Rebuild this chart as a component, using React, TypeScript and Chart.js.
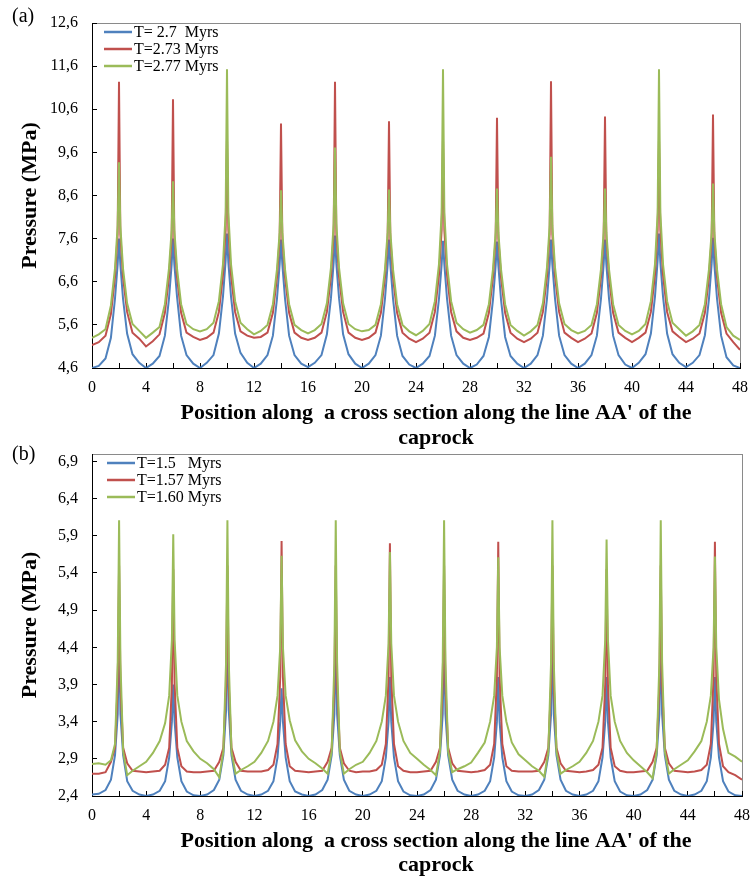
import React, { useEffect, useRef } from "react";
import { Chart, registerables } from "chart.js";

Chart.register(...registerables);

// Shared x positions (position along the cross section)
const POSITIONS = [
  0, 0.5, 1, 1.4, 1.7, 1.9, 2, 2.1, 2.3, 2.6, 3, 3.5,
  4, 4.5, 5, 5.4, 5.7, 5.9, 6, 6.1, 6.3, 6.6, 7, 7.5,
  8, 8.5, 9, 9.4, 9.7, 9.9, 10, 10.1, 10.3, 10.6, 11, 11.5,
  12, 12.5, 13, 13.4, 13.7, 13.9, 14, 14.1, 14.3, 14.6, 15, 15.5,
  16, 16.5, 17, 17.4, 17.7, 17.9, 18, 18.1, 18.3, 18.6, 19, 19.5,
  20, 20.5, 21, 21.4, 21.7, 21.9, 22, 22.1, 22.3, 22.6, 23, 23.5,
  24, 24.5, 25, 25.4, 25.7, 25.9, 26, 26.1, 26.3, 26.6, 27, 27.5,
  28, 28.5, 29, 29.4, 29.7, 29.9, 30, 30.1, 30.3, 30.6, 31, 31.5,
  32, 32.5, 33, 33.4, 33.7, 33.9, 34, 34.1, 34.3, 34.6, 35, 35.5,
  36, 36.5, 37, 37.4, 37.7, 37.9, 38, 38.1, 38.3, 38.6, 39, 39.5,
  40, 40.5, 41, 41.4, 41.7, 41.9, 42, 42.1, 42.3, 42.6, 43, 43.5,
  44, 44.5, 45, 45.4, 45.7, 45.9, 46, 46.1, 46.3, 46.6, 47, 47.5,
  48,
];

// Panel (a)
const A_T270 = [
  4.6, 4.65, 4.82, 5.3, 6.2, 7.0, 7.6, 7.0, 6.2, 5.4, 4.92, 4.72,
  4.6, 4.7, 4.88, 5.35, 6.2, 7.0, 7.6, 7.0, 6.25, 5.35, 4.9, 4.7,
  4.6, 4.72, 4.9, 5.4, 6.25, 7.1, 7.72, 7.05, 6.25, 5.4, 4.95, 4.72,
  4.6, 4.7, 4.9, 5.35, 6.2, 7.0, 7.58, 7.0, 6.2, 5.35, 4.9, 4.7,
  4.62, 4.72, 4.9, 5.38, 6.22, 7.05, 7.67, 7.02, 6.22, 5.38, 4.92, 4.7,
  4.6, 4.7, 4.9, 5.35, 6.2, 7.0, 7.58, 7.0, 6.2, 5.35, 4.88, 4.68,
  4.6, 4.7, 4.88, 5.35, 6.2, 7.0, 7.55, 7.0, 6.2, 5.35, 4.9, 4.7,
  4.6, 4.68, 4.88, 5.32, 6.18, 6.98, 7.53, 6.98, 6.18, 5.32, 4.88, 4.7,
  4.6, 4.7, 4.9, 5.35, 6.2, 7.0, 7.58, 7.0, 6.2, 5.35, 4.9, 4.7,
  4.6, 4.7, 4.9, 5.35, 6.2, 7.0, 7.58, 7.0, 6.2, 5.35, 4.9, 4.68,
  4.6, 4.72, 4.92, 5.4, 6.25, 7.1, 7.72, 7.05, 6.25, 5.4, 4.92, 4.72,
  4.62, 4.72, 4.9, 5.36, 6.2, 7.02, 7.62, 7.0, 6.2, 5.35, 4.85, 4.66,
  4.6,
];
const A_T273 = [
  5.13, 5.2, 5.35, 5.85, 6.7, 7.7, 11.24, 7.7, 6.7, 5.9, 5.42, 5.28,
  5.1, 5.22, 5.38, 5.88, 6.7, 7.6, 10.83, 7.6, 6.7, 5.88, 5.42, 5.32,
  5.25, 5.3, 5.42, 5.9, 6.75, 7.8, 9.9, 7.8, 6.75, 5.9, 5.45, 5.35,
  5.3, 5.32, 5.42, 5.88, 6.7, 7.6, 10.27, 7.6, 6.7, 5.88, 5.42, 5.3,
  5.25, 5.3, 5.42, 5.9, 6.72, 7.7, 11.24, 7.7, 6.72, 5.9, 5.42, 5.3,
  5.25, 5.3, 5.42, 5.88, 6.7, 7.6, 10.32, 7.6, 6.7, 5.88, 5.42, 5.28,
  5.2, 5.28, 5.42, 5.9, 6.75, 7.8, 9.9, 7.8, 6.75, 5.9, 5.45, 5.3,
  5.25, 5.3, 5.4, 5.88, 6.7, 7.6, 10.4, 7.6, 6.7, 5.88, 5.42, 5.28,
  5.2, 5.28, 5.42, 5.9, 6.72, 7.7, 11.25, 7.7, 6.72, 5.9, 5.42, 5.3,
  5.2, 5.28, 5.4, 5.88, 6.7, 7.6, 10.43, 7.6, 6.7, 5.88, 5.42, 5.3,
  5.2, 5.3, 5.42, 5.9, 6.75, 7.8, 9.9, 7.8, 6.75, 5.9, 5.45, 5.32,
  5.2, 5.28, 5.4, 5.88, 6.7, 7.6, 10.48, 7.6, 6.7, 5.88, 5.4, 5.2,
  5.02,
];
const A_T277 = [
  5.3, 5.38, 5.5, 6.05, 6.9, 7.9, 9.37, 7.9, 6.9, 6.1, 5.62, 5.46,
  5.3, 5.42, 5.55, 6.08, 6.9, 7.8, 8.93, 7.8, 6.9, 6.08, 5.62, 5.5,
  5.45, 5.5, 5.65, 6.15, 7.0, 8.2, 11.53, 8.2, 7.0, 6.15, 5.65, 5.5,
  5.38, 5.46, 5.6, 6.08, 6.88, 7.75, 8.72, 7.75, 6.88, 6.08, 5.6, 5.48,
  5.4, 5.48, 5.62, 6.1, 6.92, 7.95, 9.71, 7.95, 6.92, 6.1, 5.62, 5.5,
  5.45, 5.48, 5.6, 6.08, 6.88, 7.75, 8.74, 7.75, 6.88, 6.08, 5.6, 5.45,
  5.36, 5.46, 5.62, 6.15, 7.0, 8.2, 11.53, 8.2, 7.0, 6.15, 5.65, 5.5,
  5.42, 5.48, 5.6, 6.08, 6.88, 7.75, 8.76, 7.75, 6.88, 6.08, 5.6, 5.46,
  5.35, 5.45, 5.6, 6.1, 6.92, 7.9, 9.5, 7.9, 6.92, 6.1, 5.62, 5.48,
  5.4, 5.46, 5.6, 6.08, 6.88, 7.75, 8.76, 7.75, 6.88, 6.08, 5.6, 5.46,
  5.38, 5.46, 5.62, 6.15, 7.0, 8.2, 11.53, 8.2, 7.0, 6.15, 5.65, 5.5,
  5.35, 5.45, 5.6, 6.08, 6.88, 7.75, 8.88, 7.75, 6.88, 6.08, 5.55, 5.35,
  5.25,
];

// Panel (b)
const B_T150 = [
  2.42, 2.43, 2.48, 2.62, 2.95, 3.5, 4.7, 3.5, 2.95, 2.6, 2.47, 2.42,
  2.4, 2.42, 2.47, 2.6, 2.92, 3.4, 3.9, 3.4, 2.92, 2.6, 2.46, 2.41,
  2.4, 2.42, 2.48, 2.62, 2.95, 3.55, 4.8, 3.55, 2.95, 2.62, 2.47, 2.42,
  2.4, 2.42, 2.47, 2.6, 2.92, 3.4, 3.85, 3.4, 2.92, 2.6, 2.46, 2.42,
  2.4, 2.42, 2.48, 2.62, 2.95, 3.5, 4.6, 3.5, 2.95, 2.62, 2.47, 2.42,
  2.4, 2.42, 2.47, 2.6, 2.92, 3.4, 4.0, 3.4, 2.92, 2.6, 2.46, 2.41,
  2.4, 2.42, 2.48, 2.62, 2.95, 3.5, 4.6, 3.5, 2.95, 2.62, 2.47, 2.42,
  2.4, 2.42, 2.47, 2.6, 2.92, 3.4, 4.0, 3.4, 2.92, 2.6, 2.46, 2.41,
  2.4, 2.42, 2.48, 2.62, 2.95, 3.5, 4.6, 3.5, 2.95, 2.62, 2.47, 2.42,
  2.4, 2.42, 2.47, 2.6, 2.92, 3.4, 4.0, 3.4, 2.92, 2.6, 2.46, 2.41,
  2.4, 2.42, 2.48, 2.62, 2.95, 3.5, 4.6, 3.5, 2.95, 2.62, 2.47, 2.42,
  2.4, 2.42, 2.47, 2.6, 2.92, 3.4, 4.0, 3.4, 2.92, 2.6, 2.46, 2.41,
  2.4,
];
const B_T157 = [
  2.7, 2.7, 2.72, 2.86, 3.05, 3.9, 5.5, 3.9, 3.05, 2.84, 2.74, 2.73,
  2.72, 2.73, 2.74, 2.82, 3.05, 3.9, 5.45, 3.9, 3.05, 2.8, 2.73, 2.72,
  2.72, 2.73, 2.74, 2.86, 3.05, 3.9, 5.5, 3.9, 3.05, 2.86, 2.74, 2.73,
  2.73, 2.73, 2.75, 2.82, 3.1, 4.0, 5.83, 4.0, 3.1, 2.8, 2.74, 2.73,
  2.72, 2.73, 2.74, 2.86, 3.05, 3.9, 5.5, 3.9, 3.05, 2.84, 2.74, 2.72,
  2.73, 2.73, 2.75, 2.82, 3.1, 4.0, 5.8, 4.0, 3.1, 2.8, 2.74, 2.72,
  2.72, 2.73, 2.74, 2.86, 3.05, 3.9, 5.5, 3.9, 3.05, 2.84, 2.74, 2.73,
  2.72, 2.73, 2.75, 2.82, 3.1, 4.0, 5.82, 4.0, 3.1, 2.8, 2.74, 2.73,
  2.73, 2.73, 2.74, 2.86, 3.05, 3.9, 5.5, 3.9, 3.05, 2.84, 2.74, 2.73,
  2.72, 2.73, 2.75, 2.82, 3.05, 3.9, 5.45, 3.9, 3.05, 2.8, 2.74, 2.72,
  2.72, 2.73, 2.74, 2.86, 3.05, 3.9, 5.5, 3.9, 3.05, 2.84, 2.74, 2.73,
  2.72, 2.73, 2.75, 2.82, 3.1, 4.0, 5.82, 4.0, 3.1, 2.8, 2.72, 2.68,
  2.62,
];
const B_T160 = [
  2.83, 2.84, 2.82, 2.88, 3.1, 4.2, 6.11, 4.2, 3.0, 2.68, 2.74, 2.8,
  2.86, 2.98, 3.14, 3.38, 3.75, 4.5, 5.92, 4.5, 3.75, 3.4, 3.14, 3.0,
  2.9, 2.84, 2.76, 2.65, 3.0, 4.2, 6.11, 4.2, 3.0, 2.7, 2.75, 2.8,
  2.86, 2.98, 3.14, 3.4, 3.75, 4.4, 5.63, 4.4, 3.75, 3.42, 3.15, 3.0,
  2.9, 2.84, 2.77, 2.7, 3.0, 4.2, 6.11, 4.2, 3.0, 2.7, 2.76, 2.82,
  2.86, 2.98, 3.14, 3.4, 3.75, 4.45, 5.68, 4.45, 3.75, 3.4, 3.14, 2.98,
  2.9, 2.82, 2.75, 2.68, 3.0, 4.2, 6.11, 4.2, 3.0, 2.72, 2.76, 2.8,
  2.85, 2.98, 3.12, 3.4, 3.75, 4.4, 5.61, 4.4, 3.75, 3.4, 3.12, 2.96,
  2.88, 2.8, 2.74, 2.66, 3.0, 4.2, 6.11, 4.2, 3.0, 2.7, 2.75, 2.8,
  2.86, 2.98, 3.14, 3.4, 3.75, 4.5, 5.85, 4.5, 3.75, 3.4, 3.14, 2.98,
  2.88, 2.8, 2.72, 2.64, 3.0, 4.2, 6.11, 4.2, 3.0, 2.7, 2.76, 2.82,
  2.88, 3.0, 3.14, 3.4, 3.75, 4.4, 5.62, 4.4, 3.7, 3.3, 2.98, 2.93,
  2.86,
];

const A_LABELS = ["T= 2.7  Myrs", "T=2.73 Myrs", "T=2.77 Myrs"];
const B_LABELS = ["T=1.5   Myrs", "T=1.57 Myrs", "T=1.60 Myrs"];
const A_Y_TICKS = [4.6, 5.6, 6.6, 7.6, 8.6, 9.6, 10.6, 11.6, 12.6];
const B_Y_TICKS = [2.4, 2.9, 3.4, 3.9, 4.4, 4.9, 5.4, 5.9, 6.4, 6.9];
const X_TITLE = ["Position along  a cross section along the line AA' of the", "caprock"];
const Y_TITLE = "Pressure (MPa)";
const COLORS = ["#4F81BD", "#C0504D", "#9BBB59"];

const SERIF = '"Liberation Serif", "Times New Roman", serif';

const decorPlugin: any = {
  id: "decor",
  beforeDraw(chart: any) {
    const { ctx, chartArea: ca } = chart;
    ctx.save();
    ctx.strokeStyle = "#8a8a8a";
    ctx.lineWidth = 1;
    ctx.strokeRect(
      Math.round(ca.left) + 0.5,
      Math.round(ca.top) + 0.5,
      Math.round(ca.right - ca.left),
      Math.round(ca.bottom - ca.top)
    );
    ctx.restore();
  },
  afterDraw(chart: any, _args: any, opts: any) {
    const ctx = chart.ctx;
    ctx.save();
    ctx.textBaseline = "middle";
    ctx.textAlign = "left";
    ctx.font = `16px ${SERIF}`;
    chart.data.datasets.forEach((ds: any, i: number) => {
      const y = opts.legendY[i];
      ctx.strokeStyle = ds.borderColor;
      ctx.lineWidth = 2.5;
      ctx.beginPath();
      ctx.moveTo(opts.legendX1, y);
      ctx.lineTo(opts.legendX2, y);
      ctx.stroke();
      ctx.fillStyle = "#000";
      ctx.fillText(ds.label, opts.legendTextX, y + 1);
    });
    ctx.font = `20px ${SERIF}`;
    ctx.fillStyle = "#000";
    ctx.fillText(opts.panel, opts.panelX, opts.panelY);
    ctx.font = `bold 22px ${SERIF}`;
    ctx.textAlign = "center";
    opts.xTitle.forEach((t: string, i: number) => ctx.fillText(t, opts.xTitleX, opts.xTitleY[i]));
    ctx.restore();
  },
};

const fmt = (v: any) => Number(v).toFixed(1).replace(".", ",");

function makeConfig(p: any) {
  const datasets = p.series.map((vals: number[], i: number) => ({
    label: p.labels[i],
    data: POSITIONS.map((x, j) => ({ x, y: vals[j] })),
    borderColor: COLORS[i],
    backgroundColor: COLORS[i],
    borderWidth: 2,
    pointRadius: 0,
    tension: 0,
    order: 3 - i,
  }));
  return {
    type: "line",
    data: { datasets },
    plugins: [decorPlugin],
    options: {
      responsive: false,
      animation: false,
      layout: { padding: { top: p.padTop, right: p.padRight, left: 0, bottom: 0 } },
      plugins: {
        legend: { display: false },
        tooltip: { enabled: false },
        decor: {
          legendY: p.legendY,
          legendX1: p.legendX1,
          legendX2: p.legendX2,
          legendTextX: p.legendTextX,
          panel: p.panel,
          panelX: 12,
          panelY: p.panelY,
          xTitle: X_TITLE,
          xTitleX: 436,
          xTitleY: p.xTitleY,
        },
      },
      scales: {
        x: {
          type: "linear",
          min: 0,
          max: 48,
          afterFit: (s: any) => {
            s.height = p.xHeight;
            s.paddingLeft = 0;
            s.paddingRight = 0;
          },
          ticks: {
            stepSize: 2,
            autoSkip: false,
            maxRotation: 0,
            padding: 15,
            color: "#000",
            font: { family: SERIF, size: 16 },
            callback: (v: any) => (Number(v) % 4 === 0 ? String(v) : ""),
          },
          grid: { drawOnChartArea: false, tickLength: -5, color: "#000" },
          border: { color: "#000", width: 1 },
        },
        y: {
          type: "linear",
          min: p.yMin,
          max: p.yMax,
          afterBuildTicks: (s: any) => {
            s.ticks = p.yTicks.map((v: number) => ({ value: v }));
          },
          afterFit: (s: any) => {
            s.width = 92;
            s.paddingTop = 0;
            s.paddingBottom = 0;
          },
          ticks: {
            padding: 19,
            color: "#000",
            font: { family: SERIF, size: 16 },
            callback: fmt,
          },
          grid: { drawOnChartArea: false, tickLength: -5, color: "#000" },
          border: { color: "#000", width: 1 },
          title: {
            display: true,
            text: Y_TITLE,
            color: "#000",
            font: { family: SERIF, size: 22, weight: "bold" },
            padding: { top: 17, bottom: 0 },
          },
        },
      },
    },
  } as any;
}

export default function App() {
  const refA = useRef<HTMLCanvasElement>(null);
  const refB = useRef<HTMLCanvasElement>(null);

  useEffect(() => {
    const a = new Chart(
      refA.current as any,
      makeConfig({
        series: [A_T270, A_T273, A_T277],
        labels: A_LABELS,
        yMin: 4.6,
        yMax: 12.6,
        yTicks: A_Y_TICKS,
        padTop: 23,
        padRight: 10,
        xHeight: 82,
        legendY: [32, 49, 66],
        legendX1: 104,
        legendX2: 132,
        legendTextX: 134,
        panel: "(a)",
        panelY: 17,
        xTitleY: [413, 438],
      })
    );
    const b = new Chart(
      refB.current as any,
      makeConfig({
        series: [B_T150, B_T157, B_T160],
        labels: B_LABELS,
        yMin: 2.4,
        yMax: 7.0,
        yTicks: B_Y_TICKS,
        padTop: 14,
        padRight: 8,
        xHeight: 84,
        legendY: [23, 40, 57],
        legendX1: 107,
        legendX2: 135,
        legendTextX: 137,
        panel: "(b)",
        panelY: 15,
        xTitleY: [401, 425],
      })
    );
    return () => {
      a.destroy();
      b.destroy();
    };
  }, []);

  return (
    <div style={{ position: "absolute", left: 0, top: 0, width: 750, height: 880, background: "#fff" }}>
      <canvas ref={refA} width={750} height={450} style={{ position: "absolute", left: 0, top: 0 }} />
      <canvas ref={refB} width={750} height={440} style={{ position: "absolute", left: 0, top: 440 }} />
    </div>
  );
}
